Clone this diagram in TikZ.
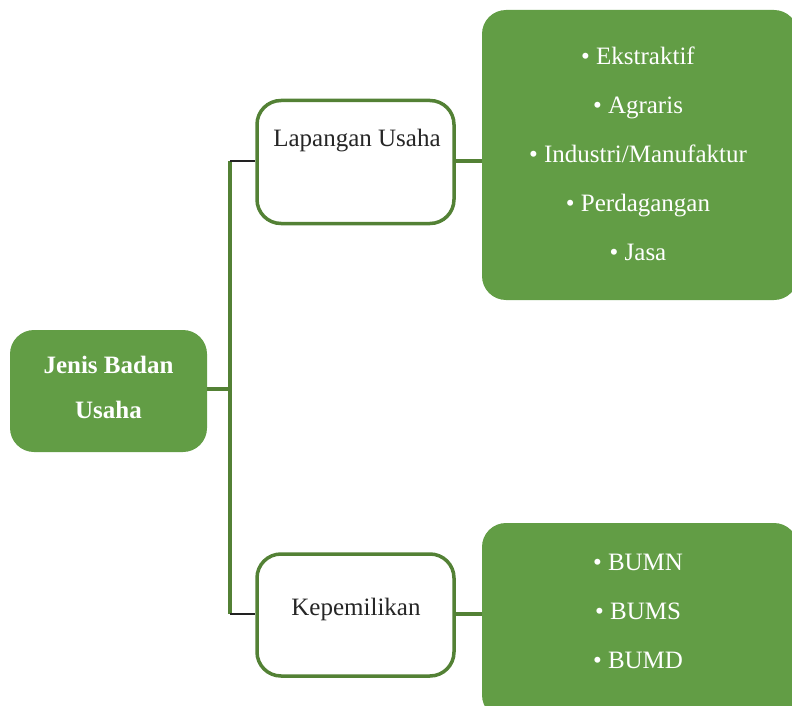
\documentclass[tikz,border=0pt]{standalone}
\usepackage{fontspec}
\setmainfont{Liberation Serif}
\definecolor{gfill}{HTML}{629D45}
\definecolor{gline}{HTML}{538135}
\definecolor{stub}{HTML}{222222}
\begin{document}
\begin{tikzpicture}[x=1pt,y=-1pt,
  txt/.style={font=\fontsize{25}{28}\selectfont,text height=17pt,text depth=6pt,inner sep=0pt},
  btxt/.style={font=\fontsize{25}{28}\selectfont\bfseries,text height=17pt,text depth=6pt,inner sep=0pt},
  greenbox/.style={fill=gfill,draw=none,rounded corners=24pt,inner sep=0pt},
  whitebox/.style={fill=white,draw=gline,line width=3.5pt,rounded corners=24pt,inner sep=0pt},
  conn/.style={draw=gline,line width=3.5pt},
  stubline/.style={draw=stub,line width=2pt}]
\useasboundingbox (0,0) rectangle (792,706);
% root
\node[greenbox,minimum width=197pt,minimum height=122pt] (root) at (108.5,391) {};
\node[btxt,text=white] (roott) at (108.5,368) {Jenis Badan};
\node[btxt,text=white] (roott2) at (108.5,413) {Usaha};
% middle boxes
\node[whitebox,minimum width=197pt,minimum height=123pt] (lap) at (355.5,162) {};
\node[txt,text=black!85] (lapt) at (357,141) {Lapangan Usaha};
\node[whitebox,minimum width=197pt,minimum height=122pt] (kep) at (355.5,615) {};
\node[txt,text=black!85] (kept) at (356,610) {Kepemilikan};
% right boxes
\node[greenbox,minimum width=316pt,minimum height=290pt] (r1) at (640,155) {};
\node[txt,text=white] (e1) at (638,59) {• Ekstraktif};
\node[txt,text=white] (e2) at (638,108) {• Agraris};
\node[txt,text=white] (e3) at (638,157) {• Industri/Manufaktur};
\node[txt,text=white] (e4) at (638,206) {• Perdagangan};
\node[txt,text=white] (e5) at (638,255) {• Jasa};
\node[greenbox,minimum width=316pt,minimum height=196pt] (r2) at (640,621) {};
\node[txt,text=white] (b1) at (638,565) {• BUMN};
\node[txt,text=white] (b2) at (638,614) {• BUMS};
\node[txt,text=white] (b3) at (638,663) {• BUMD};
% connectors
\coordinate (top) at (230,161);
\coordinate (mid) at (230,389);
\coordinate (bot) at (230,614);
\draw[conn] (root.east |- mid) -- (mid);
\draw[conn] (top) -- (bot);
\draw[stubline] (top) -- (lap.west |- top);
\draw[stubline] (bot) -- (kep.west |- bot);
\draw[conn] (lap.east |- top) -- (r1.west |- top);
\draw[conn] (kep.east |- bot) -- (r2.west |- bot);
\end{tikzpicture}
\end{document}
